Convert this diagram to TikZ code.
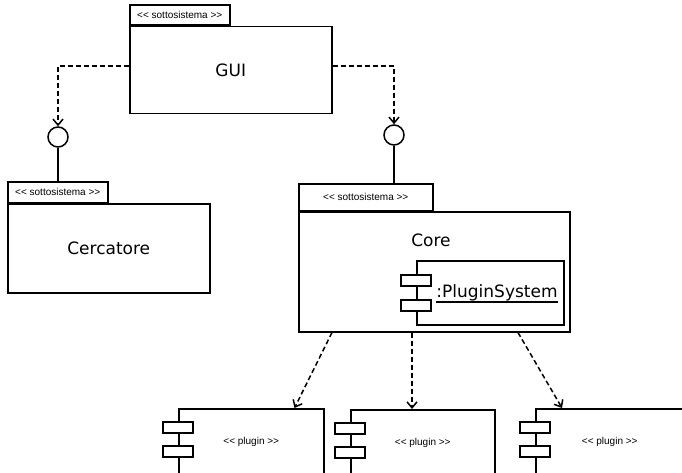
\documentclass[tikz,border=0pt]{standalone}
\usepackage{fontspec}
\setmainfont{DejaVu Sans}
\newfontfamily\stereofont{Liberation Sans}
\usetikzlibrary{arrows.meta, positioning, calc}
\tikzset{
  every node/.style={inner sep=0pt},
  dep/.style={-{Straight Barb[length=6pt,width=10pt]}, line width=1.5pt,
              dash pattern=on 5pt off 3pt},
  conn/.style={line width=1.5pt},
  tabbox/.style={draw, line width=1.5pt, minimum height=20pt,
                 font=\stereofont\fontsize{10}{12}\selectfont},
  pkg/.style={draw, line width=1.5pt, font=\fontsize{17}{20}\selectfont},
  title/.style={font=\fontsize{17}{20}\selectfont},
  iface/.style={draw, circle, line width=1.5pt, minimum size=20pt},
  comp/.style={draw, line width=1.5pt, fill=white},
  port/.style={draw, line width=1.5pt, fill=white,
               minimum width=30pt, minimum height=11pt},
  plug/.style={comp, minimum height=66pt, anchor=north west,
               font=\stereofont\fontsize{10}{12}\selectfont}
}

\begin{document}
\begin{tikzpicture}[x=1pt,y=-1pt]
\useasboundingbox (0,0) rectangle (682,473);

% Subsystem GUI
\node[pkg, minimum width=202pt, minimum height=87.3pt, anchor=north west] (gui) at (129,25.7) {GUI};
\node[tabbox, minimum width=100pt, anchor=south west] (guitab) at (gui.north west) {<< sottosistema >>};

% Subsystem Cercatore
\node[pkg, minimum width=202pt, minimum height=89pt, anchor=north west] (cerc) at (7,203) {Cercatore};
\node[tabbox, minimum width=100pt, anchor=south west] (cerctab) at (cerc.north west) {<< sottosistema >>};

% Subsystem Core
\node[pkg, minimum width=271pt, minimum height=120pt, anchor=north west] (core) at (298,211) {};
\node[tabbox, minimum width=134pt, minimum height=26pt, anchor=south west] (coretab) at (core.north west) {<< sottosistema >>};
\node[title] (coretitle) at (431,240.5) {Core};

% PluginSystem component
\node[comp, minimum width=147pt, minimum height=64pt, anchor=north west] (psys) at (416,260) {};
\node[port] (psysa) at ([yshift=12.5pt]psys.west) {};
\node[port] (psysb) at ([yshift=-12.5pt]psys.west) {};
\node[title, anchor=base] (psysname) at (497,297) {:PluginSystem};
\draw[conn] ([yshift=-5pt]psysname.base west) -- ([yshift=-5pt]psysname.base east);

% Interfaces
\node[iface] (ifcerc) at (58,137) {};
\node[iface] (ifcore) at (394,135) {};
\draw[conn] (ifcerc.south) -- (ifcerc.south |- cerctab.north);
\draw[conn] (ifcore.south) -- (ifcore.south |- coretab.north);
\draw[dep] ([yshift=4pt]gui.west) -| (ifcerc.north);
\draw[dep] ([yshift=4pt]gui.east) -| (ifcore.north);

% Plugins
\node[plug, minimum width=145pt] (plug1) at (178,408) {<< plugin >>};
\node[plug, minimum width=144pt] (plug2) at (350,409) {<< plugin >>};
\node[plug, minimum width=148pt] (plug3) at (535,408) {<< plugin >>};
\foreach \p in {plug1,plug2,plug3} {
  \node[port] (\p a) at ([yshift=-19.5pt]\p.north west) {};
  \node[port] (\p b) at ([yshift=-43.5pt]\p.north west) {};
}

\draw[dep] ($(core.south west)+(34,0)$) -- ($(plug1.north east)+(-30,0)$);
\draw[dep] ($(core.south west)+(114,0)$) -- ($(plug2.north west)+(62,0)$);
\draw[dep] ($(core.south west)+(220,0)$) -- ($(plug3.north west)+(27,0)$);

\end{tikzpicture}
\end{document}
